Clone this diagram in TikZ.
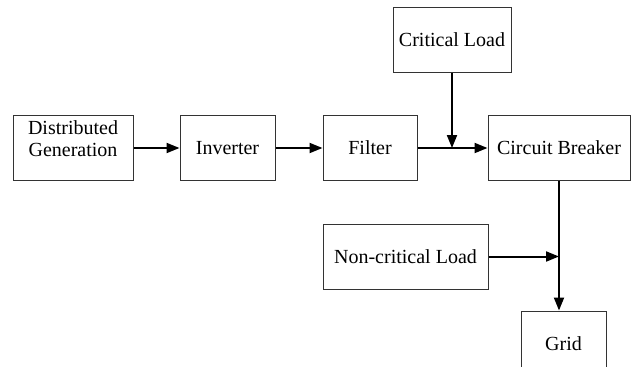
\documentclass[tikz,border=0pt]{standalone}
\usepackage{fontspec}
\setmainfont{Liberation Serif}
\usetikzlibrary{arrows.meta}
\begin{document}
\begin{tikzpicture}[x=1pt,y=-1pt,
  blk/.style={draw=black!80,line width=1pt,inner sep=0pt,font=\fontsize{20}{22}\selectfont,align=center},
  conn/.style={line width=2pt,-{Triangle[length=13pt,width=10pt]}}]
\useasboundingbox[fill=white] (0,0) rectangle (633,367);
\node[blk,minimum width=120pt,minimum height=65pt] (dg) at (73,148) {};
\node[font=\fontsize{20}{22}\selectfont,align=center] at (73,139) {Distributed\\Generation};
\node[blk,minimum width=95pt,minimum height=65pt] (inv) at (227.5,148) {Inverter};
\node[blk,minimum width=94pt,minimum height=65pt] (fil) at (370,148) {Filter};
\node[blk,minimum width=142pt,minimum height=65pt] (cb) at (559,148) {Circuit Breaker};
\node[blk,minimum width=118pt,minimum height=65pt] (cl) at (452,39.5) {Critical Load};
\node[blk,minimum width=165pt,minimum height=65pt] (ncl) at (405.5,256.5) {Non-critical Load};
\node[blk,minimum width=85pt,minimum height=65pt] (grid) at (563.5,343.5) {Grid};
\draw[conn] (dg.east) -- (inv.west);
\draw[conn] (inv.east) -- (fil.west);
\draw[conn] (fil.east) -- (cb.west);
\draw[conn] (cl.south) -- (cl.south |- fil.east);
\draw[conn] (cb.south) -- (cb.south |- grid.north);
\draw[conn] (ncl.east) -- (cb.south |- ncl.east);
\end{tikzpicture}
\end{document}
